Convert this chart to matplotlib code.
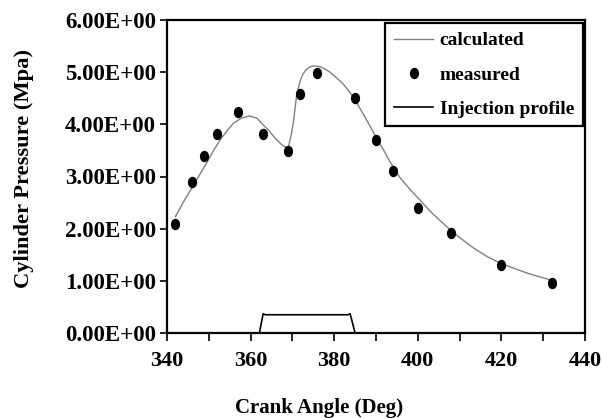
import matplotlib
matplotlib.use("Agg")
import matplotlib.pyplot as plt
from matplotlib.path import Path
from matplotlib.transforms import Affine2D

# measured points
meas_x = [341.9, 346.0, 348.9, 351.9, 357.0, 362.9, 368.9, 371.7, 376.0,
          385.0, 390.1, 394.0, 400.0, 407.9, 420.0, 432.0]
meas_y = [2.09, 2.90, 3.40, 3.81, 4.24, 3.81, 3.49, 4.59, 4.99,
          4.50, 3.70, 3.10, 2.40, 1.91, 1.31, 0.96]

# calculated curve
calc_x = [342.0, 344.0, 346.3, 348.0, 349.5, 351.0, 352.7, 354.3, 355.9, 357.8,
          359.7, 361.5, 363.0, 364.5, 365.8, 367.3, 368.9, 369.6, 370.2, 371.0,
          371.8, 372.5, 373.3, 374.2, 375.2, 376.3, 377.4, 379.0, 380.6, 382.2,
          383.8, 385.4, 387.0, 388.6, 390.2, 391.8, 393.3, 395.7, 398.5, 400.5,
          403.5, 406.9, 410.0, 413.3, 416.5, 419.7, 423.0, 426.1, 429.0, 431.6]
calc_y = [2.23, 2.52, 2.83, 3.06, 3.26, 3.48, 3.70, 3.87, 4.02, 4.12,
          4.16, 4.12, 3.99, 3.87, 3.74, 3.62, 3.53, 3.75, 4.02, 4.55,
          4.82, 4.96, 5.05, 5.10, 5.12, 5.11, 5.08, 5.00, 4.89, 4.77,
          4.61, 4.41, 4.19, 3.96, 3.73, 3.51, 3.29, 2.98, 2.72, 2.55,
          2.29, 2.04, 1.83, 1.63, 1.47, 1.34, 1.24, 1.15, 1.08, 1.02]

# injection profile
inj_x = [362.1, 363.0, 363.5, 383.3, 383.8, 385.0]
inj_y = [0.00, 0.37, 0.35, 0.35, 0.37, 0.00]

x_ticks = [340, 360, 380, 400, 420, 440]
y_ticks = [0, 1, 2, 3, 4, 5, 6]
y_ticklabels = ["0.00E+00", "1.00E+00", "2.00E+00", "3.00E+00",
                "4.00E+00", "5.00E+00", "6.00E+00"]

plt.rcParams['font.family'] = ['Liberation Serif', 'DejaVu Serif']
plt.rcParams['font.weight'] = 'bold'

fig = plt.figure(figsize=(6.02, 4.18), dpi=100)
ax = fig.add_axes([167/602, 1 - 333/418, (585-167)/602, (333-20)/418])

ellipse = Path.unit_circle().transformed(Affine2D().scale(0.78, 1.0))

ax.plot(calc_x, calc_y, color='#808080', lw=1.0, label='calculated', zorder=2)
ax.plot(meas_x, meas_y, linestyle='none', marker=ellipse, markersize=7.2,
        color='black', label='measured', zorder=3)
ax.plot(inj_x, inj_y, color='black', lw=1.2, label='Injection profile', zorder=2)

ax.set_xlim(340, 440)
ax.set_ylim(0, 6)
ax.set_xticks(x_ticks)
ax.set_xticks(list(range(350, 440, 20)), minor=True)
ax.set_yticks(y_ticks)
ax.set_yticklabels(y_ticklabels)

for s in ax.spines.values():
    s.set_linewidth(1.6)
    s.set_color('black')

ax.tick_params(axis='x', which='both', direction='out', length=6, width=1.2,
               labelsize=16, pad=7)
ax.tick_params(axis='y', which='both', direction='out', length=5, width=1.2,
               labelsize=16.5, pad=3)
for lbl in ax.get_xticklabels() + ax.get_yticklabels():
    lbl.set_fontweight('bold')

fig.text(319 / 602, 1 - 408 / 418, 'Crank Angle (Deg)',
         ha='center', va='center', fontsize=15, fontweight='bold')
fig.text(24 / 602, 1 - 168 / 418, 'Cylinder Pressure (Mpa)', rotation=90,
         ha='center', va='center', fontsize=16.2, fontweight='bold')

leg = ax.legend(loc='upper right', bbox_to_anchor=((583-167)/418, (333-23)/313),
                fontsize=14, frameon=True, fancybox=False, framealpha=1,
                edgecolor='black', handlelength=2.0, handletextpad=0.35,
                labelspacing=0.85, borderpad=0.45, borderaxespad=0)
leg.get_frame().set_linewidth(1.6)
for t in leg.get_texts():
    t.set_fontweight('bold')

fig.savefig('out.png', dpi=100)
